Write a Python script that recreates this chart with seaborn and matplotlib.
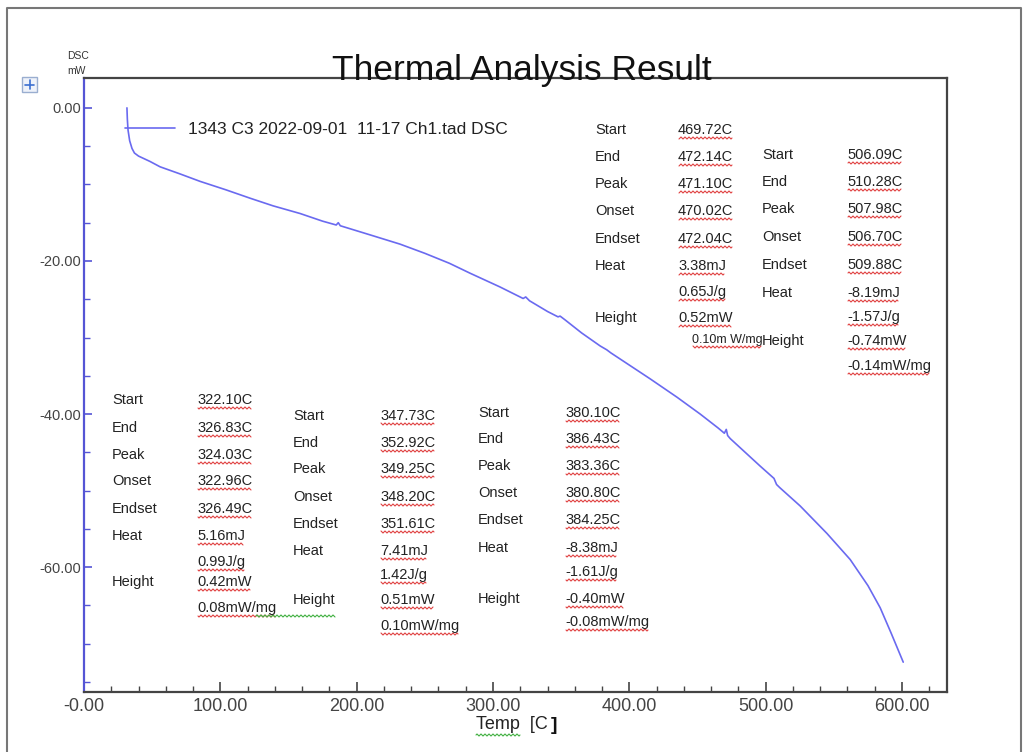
import numpy as np
import pandas as pd
import matplotlib
matplotlib.use("Agg")
import matplotlib.pyplot as plt
from matplotlib.lines import Line2D
from matplotlib.patches import Rectangle
import seaborn as sns

# ---------------- data ----------------
temp_c = [31.5, 31.8, 32.3, 33.5, 35.2, 37.0, 40.0, 48.4, 55.8, 70.0, 85.1, 104.0, 121.8,
          138.7, 158.5, 175.0, 185.0, 186.5, 188.0, 210.0, 231.8, 250.0, 268.0, 283.2,
          305.2, 322.1, 324.0, 326.8, 340.0, 347.7, 349.2, 352.9, 365.0, 378.6, 383.4,
          386.4, 400.0, 415.3, 435.0, 452.0, 465.0, 469.7, 471.1, 472.1, 474.0, 485.0,
          496.0, 506.1, 508.0, 510.3, 525.3, 545.0, 562.0, 575.0, 584.0, 592.0, 600.9]
dsc_mw = [0.0, -1.5, -2.9, -4.3, -5.3, -5.9, -6.3, -7.0, -7.7, -8.6, -9.6, -10.7, -11.8,
          -12.8, -13.8, -14.8, -15.3, -15.0, -15.4, -16.6, -17.8, -19.0, -20.3, -21.6,
          -23.4, -24.9, -24.7, -25.2, -26.6, -27.3, -27.2, -27.7, -29.4, -31.1, -31.6,
          -32.0, -33.6, -35.4, -37.8, -40.0, -41.8, -42.5, -42.0, -42.8, -43.2, -45.0,
          -46.8, -48.4, -49.2, -49.6, -52.0, -55.6, -59.0, -62.4, -65.3, -68.6, -72.4]
series_label = "1343 C3 2022-09-01  11-17 Ch1.tad DSC"

x_ticks = [0, 100, 200, 300, 400, 500, 600]
x_tick_labels = ["-0.00", "100.00", "200.00", "300.00", "400.00", "500.00", "600.00"]
y_ticks = [0, -20, -40, -60]
y_tick_labels = ["0.00", "-20.00", "-40.00", "-60.00"]

block_labels = ["Start", "End", "Peak", "Onset", "Endset", "Heat", "", "Height", ""]
peak1_values = ["322.10C", "326.83C", "324.03C", "322.96C", "326.49C", "5.16mJ", "0.99J/g", "0.42mW", "0.08mW/mg"]
peak2_values = ["347.73C", "352.92C", "349.25C", "348.20C", "351.61C", "7.41mJ", "1.42J/g", "0.51mW", "0.10mW/mg"]
peak3_values = ["380.10C", "386.43C", "383.36C", "380.80C", "384.25C", "-8.38mJ", "-1.61J/g", "-0.40mW", "-0.08mW/mg"]
peak4_values = ["469.72C", "472.14C", "471.10C", "470.02C", "472.04C", "3.38mJ", "0.65J/g", "0.52mW", "0.10m W/mg"]
peak5_values = ["506.09C", "510.28C", "507.98C", "506.70C", "509.88C", "-8.19mJ", "-1.57J/g", "-0.74mW", "-0.14mW/mg"]

df = pd.DataFrame({"Temp": temp_c, "DSC": dsc_mw, "series": series_label})

# ---------------- figure ----------------
sns.set_theme(style="white")
plt.rcParams["font.family"] = ["Liberation Sans", "DejaVu Sans"]

W, H = 1027, 752
fig = plt.figure(figsize=(W / 100, H / 100), dpi=100)
fig.patch.set_facecolor("white")

def fx(px):
    return px / W

def fy(py):
    return 1 - py / H

ax = fig.add_axes([fx(84), fy(692), fx(947) - fx(84), fy(78) - fy(692)])
ax.set_facecolor("white")

line_color = "#6a6af0"
sns.lineplot(data=df, x="Temp", y="DSC", hue="series", palette=[line_color],
             sort=False, estimator=None, linewidth=1.2, ax=ax, legend=False)

ax.set_xlim(0, 633)
ax.set_ylim(-76.3, 3.9)

axis_blue = "#5555d5"
for side in ["top", "right", "bottom"]:
    ax.spines[side].set_color("#444444")
    ax.spines[side].set_linewidth(1.6)
ax.spines["left"].set_color(axis_blue)
ax.spines["left"].set_linewidth(1.6)

ax.set_xticks(x_ticks)
ax.set_xticklabels(x_tick_labels)
ax.set_xticks(np.arange(20, 633, 20), minor=True)
ax.set_yticks(y_ticks)
ax.set_yticklabels(y_tick_labels)
ax.set_yticks(np.arange(-75, 4, 5), minor=True)

ax.tick_params(axis="x", which="major", direction="in", length=7, width=1.2, colors="#444444",
               labelsize=13, labelcolor="#444444", pad=4, bottom=True)
ax.tick_params(axis="x", which="minor", direction="in", length=4, width=1.0, colors="#444444", bottom=True)
ax.tick_params(axis="y", which="major", direction="in", length=6, width=1.2, colors=axis_blue,
               labelsize=10.5, labelcolor="#444444", pad=2, left=True)
ax.tick_params(axis="y", which="minor", direction="in", length=4, width=1.0, colors=axis_blue, left=True)
ax.set_xlabel("")
ax.set_ylabel("")

# legend
handle = Line2D([0], [0], color=line_color, linewidth=1.2)
ax.legend([handle], [series_label], loc="upper left", bbox_to_anchor=(0.033, 0.948),
          frameon=False, fontsize=12.5, handlelength=2.9, handletextpad=0.75,
          labelcolor="#222222", borderaxespad=0.3)

# title and axis captions
fig.text(fx(522), fy(80), "Thermal Analysis Result", ha="center", va="baseline",
         fontsize=25.5, color="#111111")
fig.text(fx(78), fy(59), "DSC", ha="center", va="baseline", fontsize=7.5, color="#333333")
fig.text(fx(76), fy(74), "mW", ha="center", va="baseline", fontsize=7.5, color="#333333")
temp_txt = fig.text(fx(476), fy(729), "Temp  [C", ha="left", va="baseline", fontsize=13, color="#222222")
fig.text(fx(551), fy(730), "]", ha="left", va="baseline", fontsize=14, color="#111111",
         fontweight="bold")

# small icon at top-left
fig.add_artist(Rectangle((fx(22), fy(92)), fx(15), fy(77) - fy(92), transform=fig.transFigure,
                         facecolor="#eef2fa", edgecolor="#9aaed0", linewidth=1.0))
fig.add_artist(Line2D([fx(25), fx(34)], [fy(84.5), fy(84.5)], transform=fig.transFigure,
                      color="#3a6fd0", linewidth=1.2))
fig.add_artist(Line2D([fx(29.5), fx(29.5)], [fy(80), fy(89)], transform=fig.transFigure,
                      color="#3a6fd0", linewidth=1.2))

# outer frame
fig.add_artist(Line2D([fx(7), fx(7), fx(1021), fx(1021)], [0, fy(8), fy(8), 0],
                      transform=fig.transFigure, color="#777777", linewidth=1.5))

# annotation blocks
value_texts = []

def block(lx, vx, rows_y, labels, values, fs=10.5):
    for ly, lab, val in zip(rows_y, labels, values):
        if lab:
            fig.text(fx(lx), fy(ly), lab, ha="left", va="center", fontsize=fs, color="#222222")
        if val:
            t = fig.text(fx(vx), fy(ly), val, ha="left", va="center", fontsize=fs, color="#222222")
            value_texts.append(t)

block(112, 197, [400, 428, 455, 481, 509, 536, 562, 582, 608], block_labels, peak1_values)
block(293, 380, [416, 443, 469, 497, 524, 551, 575, 600, 626], block_labels, peak2_values)
block(478, 565, [413, 439, 466, 493, 520, 548, 572, 599, 622], block_labels, peak3_values)
block(595, 678, [130, 157, 184, 211, 239, 266, 292, 318, 340], block_labels[:8] + [""],
      peak4_values[:8] + [""])
t = fig.text(fx(692), fy(340), peak4_values[8], ha="left", va="center", fontsize=9, color="#222222")
value_texts.append(t)
block(762, 847, [155, 182, 209, 237, 265, 293, 317, 341, 366],
      ["Start", "End", "Peak", "Onset", "Endset", "Heat", "", "Height", ""], peak5_values)

# spell-check style squiggles
fig.canvas.draw()
renderer = fig.canvas.get_renderer()

def squiggle(x0, x1, y, color):
    xs = np.arange(x0, x1, 1.0)
    ys = y + 1.0 * np.sin(xs * np.pi / 2.0)
    fig.add_artist(Line2D(xs, ys, transform=None, color=color, linewidth=0.8))

for t in value_texts:
    bb = t.get_window_extent(renderer)
    squiggle(bb.x0 + 1, bb.x1 - 1, bb.y0 - 1, "#e04040")

bb = temp_txt.get_window_extent(renderer)
squiggle(bb.x0, bb.x0 + 45, bb.y0 - 2, "#40b040")
squiggle(256, 336, H - 616, "#40b040")

fig.savefig("out.png", dpi=100, facecolor="white")
